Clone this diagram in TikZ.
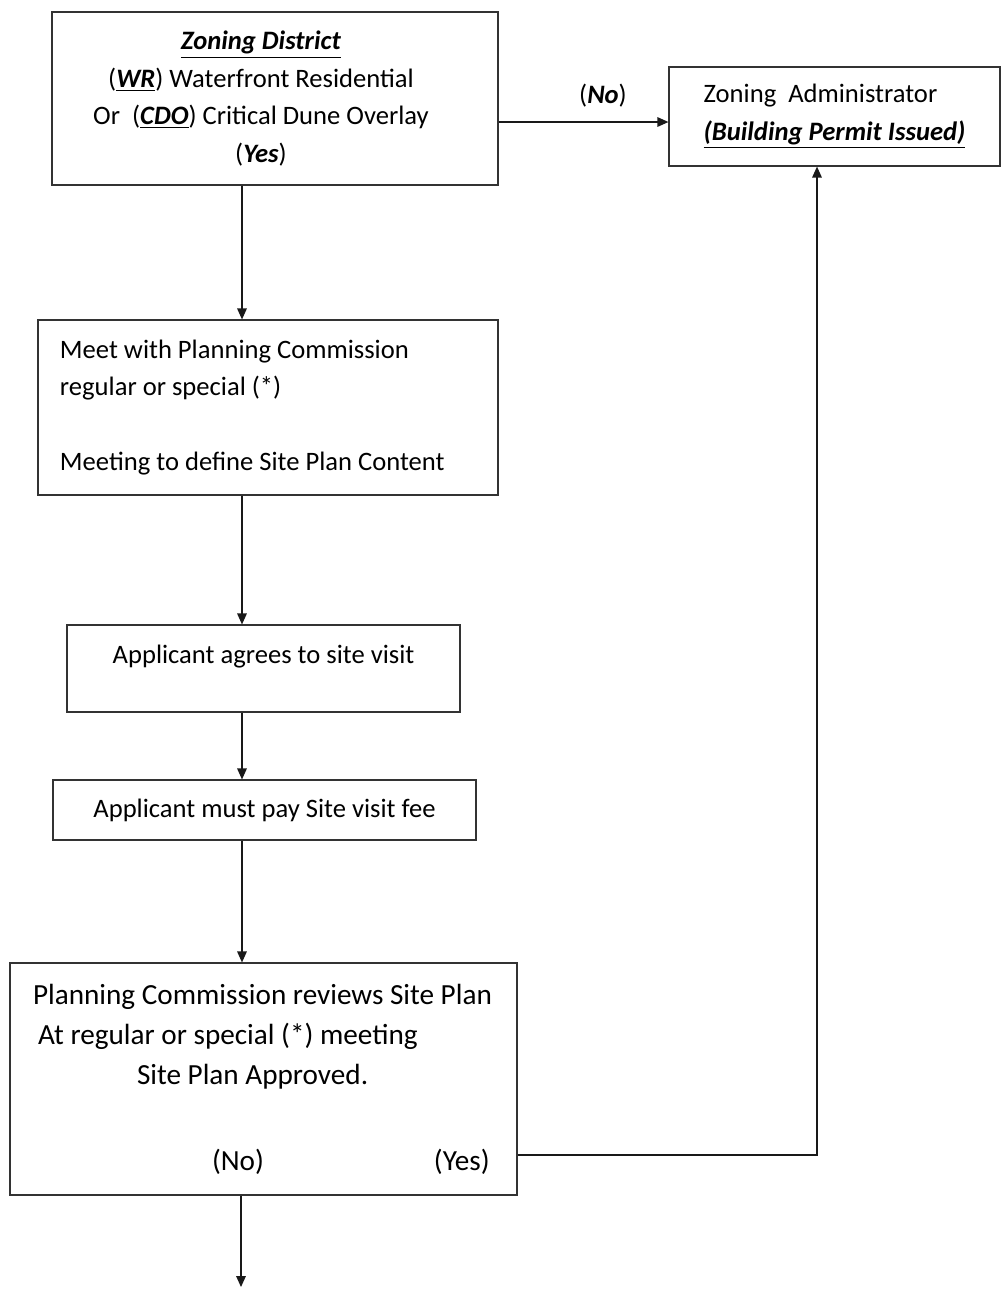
\documentclass[tikz,border=0pt]{standalone}
\usepackage{fontspec}
\setmainfont{Carlito}
\usetikzlibrary{arrows.meta,positioning,calc}
\tikzset{
  step-box/.style={rectangle,draw=black!80,line width=0.6pt,inner sep=0},
  flow/.style={draw=black!90,line width=0.65pt,-{Triangle[length=5.5pt,width=4.8pt]}},
  body-text/.style={font=\fontsize{13.3}{18.8}\selectfont},
  review-text/.style={font=\fontsize{14.6}{20}\selectfont}
}
\begin{document}
\begin{tikzpicture}[x=0.5pt,y=-0.5pt]
    \useasboundingbox (0,0) rectangle (1001,1292);
    \node[step-box, body-text, minimum width=223pt, minimum height=86.5pt] (zone) at (275,98.5)
      {\begin{tabular}{@{}c@{}}
         \underline{\textbf{\textit{Zoning District}}}\\
         (\underline{\textbf{\textit{WR}}}) Waterfront Residential\\
         Or\ \ (\underline{\textbf{\textit{CDO}}}) Critical Dune Overlay\\
         (\textbf{\textit{Yes}})
       \end{tabular}\hspace*{14pt}};
    \node[step-box, body-text, minimum width=165.5pt, minimum height=49.5pt, align=left] (admin) at (834.5,116.5)
      {Zoning\ \ Administrator\\ \underline{\textbf{\textit{(Building Permit Issued)}}}};
    \node[body-text] (no-label) at (603,96) {(\textbf{\textit{No}})};
    \node[step-box, body-text, minimum width=230pt, minimum height=87.5pt, text width=208pt, align=flush left] (meet) at (268,407.5)
      {Meet with Planning Commission\\ regular or special (*)\\[18.8pt] Meeting to define Site Plan Content};
    \node[step-box, body-text, minimum width=196.5pt, minimum height=43.5pt, align=center] (agrees) at (263.5,668.5)
      {Applicant agrees to site visit\\[-5pt] \mbox{}};
    \node[step-box, body-text, minimum width=211.5pt, minimum height=30pt] (fee) at (264.5,810)
      {Applicant must pay Site visit fee};
    \node[step-box, review-text, minimum width=253.5pt, minimum height=116pt, text width=230.5pt, align=flush left] (review) at (263.5,1079)
      {Planning Commission reviews Site Plan\\
       \hspace*{2.5pt}At regular or special (*) meeting\\
       \hspace*{52pt}Site Plan Approved.\\[23pt]
       \hspace*{89.5pt}(No)\hspace*{85pt}(Yes)};
    \coordinate (spine) at (242,0);
    \coordinate (no-end) at (241,1287);
    \draw[flow] (zone.south -| spine) -- (meet.north -| spine);
    \draw[flow] (meet.south -| spine) -- (agrees.north -| spine);
    \draw[flow] (agrees.south -| spine) -- (fee.north -| spine);
    \draw[flow] (fee.south -| spine) -- (review.north -| spine);
    \draw[flow] ([yshift=-11.75pt]zone.east) -- ([yshift=-11.75pt]zone.east -| admin.west);
    \draw[flow] ([yshift=-38pt]review.east) -| ([xshift=-8.75pt]admin.south);
    \draw[flow] (review.south -| no-end) -- (no-end);
\end{tikzpicture}
\end{document}
